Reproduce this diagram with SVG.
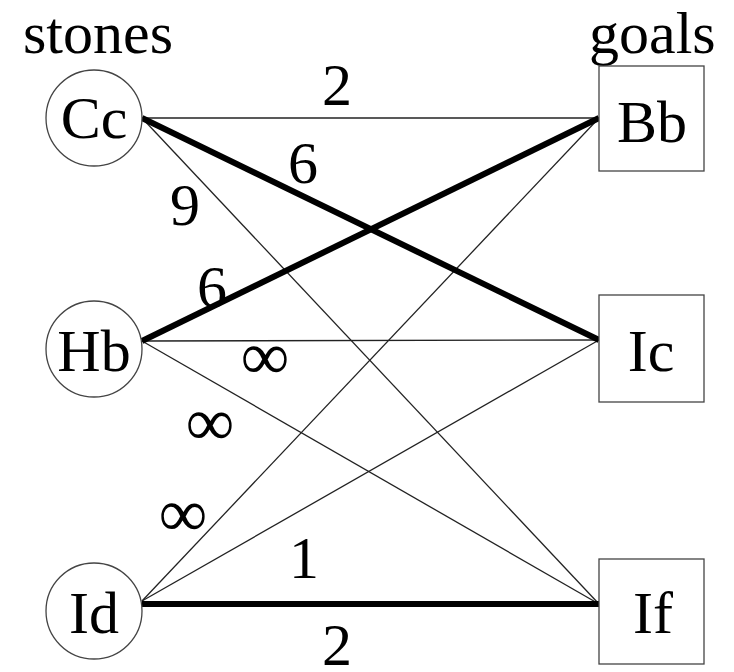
<svg xmlns="http://www.w3.org/2000/svg" width="734" height="672" viewBox="0 0 734 672">
<style>
text{font-family:"Liberation Serif","Times New Roman",serif;font-size:60px;fill:#000}
.node{fill:#fff;stroke:#444;stroke-width:1.3}
.thin{stroke:#222;stroke-width:1.3;fill:none}
.thick{stroke:#000;stroke-width:6;fill:none}
.lbl{text-anchor:middle}
.inf{text-anchor:middle;font-size:68px}
</style>
<rect width="734" height="672" fill="#fff"/>
<text x="23" y="53">stones</text>
<text x="589" y="53">goals</text>
<g id="connectors">
<line class="thin" x1="142" y1="118" x2="599" y2="118"/>
<line class="thin" x1="142" y1="118" x2="599" y2="604"/>
<line class="thin" x1="142" y1="341" x2="599" y2="340"/>
<line class="thin" x1="142" y1="341" x2="599" y2="604"/>
<line class="thin" x1="142" y1="601" x2="599" y2="118"/>
<line class="thin" x1="142" y1="601" x2="599" y2="340"/>
<line class="thick" x1="142" y1="118" x2="599" y2="340"/>
<line class="thick" x1="142" y1="341" x2="599" y2="118"/>
<line class="thick" x1="142" y1="604" x2="599" y2="604"/>
<text class="lbl" x="337" y="105">2</text>
<text class="lbl" x="303" y="183">6</text>
<text class="lbl" x="185" y="225">9</text>
<text class="lbl" x="212" y="307">6</text>
<text class="inf" x="265" y="379">∞</text>
<text class="inf" x="210" y="445">∞</text>
<text class="inf" x="183" y="536">∞</text>
<text class="lbl" x="304" y="578">1</text>
<text class="lbl" x="337" y="665">2</text>
</g>
<g id="Cc"><circle class="node" cx="94" cy="118" r="48"/><text class="lbl" x="94" y="138">Cc</text></g>
<g id="Hb"><circle class="node" cx="94" cy="349" r="48"/><text class="lbl" x="94" y="371">Hb</text></g>
<g id="Id"><circle class="node" cx="94" cy="611" r="48"/><text class="lbl" x="94" y="633">Id</text></g>
<g id="Bb"><rect class="node" x="599" y="66" width="105" height="105"/><text class="lbl" x="652" y="142">Bb</text></g>
<g id="Ic"><rect class="node" x="599" y="295" width="105" height="107"/><text class="lbl" x="651" y="371">Ic</text></g>
<g id="If"><rect class="node" x="599" y="559" width="105" height="105"/><text class="lbl" x="653" y="633">If</text></g>
</svg>
